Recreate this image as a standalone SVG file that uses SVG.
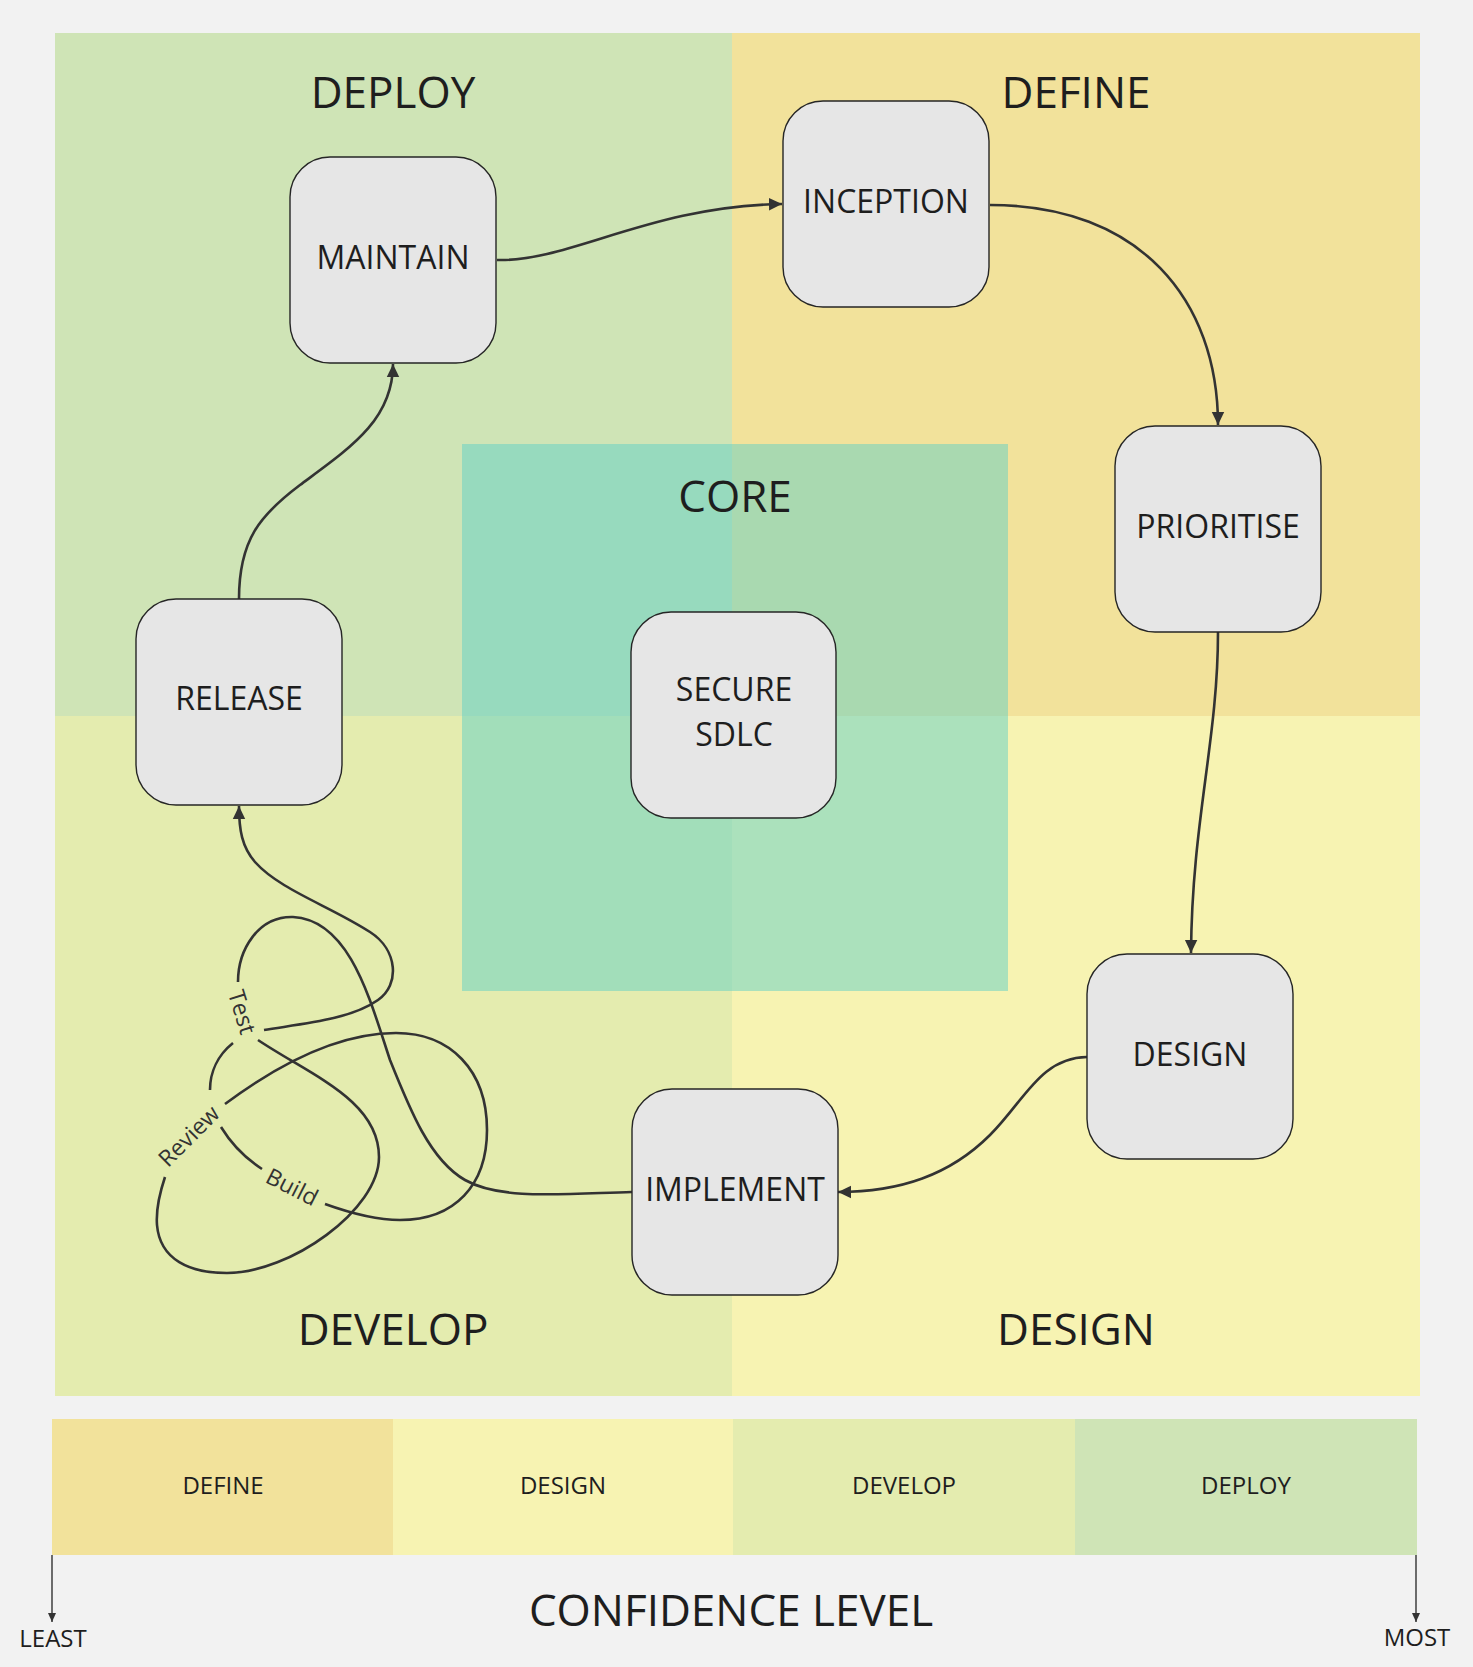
<svg xmlns="http://www.w3.org/2000/svg" width="1473" height="1667" viewBox="0 0 1473 1667">
<defs>
<style>
.node rect { fill:#e6e6e6; stroke:#262626; stroke-width:1.4; }
.node text, .t { font-family:"Open Sans","Noto Sans","Liberation Sans",sans-serif; fill:#1e1e1e; text-anchor:middle; }
.node text { font-size:32px; }
.title { font-size:44px; }
.bar { font-size:24px; }
.conn path { fill:none; stroke:#333; stroke-width:2.6; stroke-linecap:butt; }
.lbl { font-family:"Open Sans","Noto Sans","Liberation Sans",sans-serif; font-size:23px; fill:#333; text-anchor:middle; }
.axis { fill:none; stroke:#333; stroke-width:1.4; }
</style>
<marker id="arr" markerUnits="userSpaceOnUse" markerWidth="14" markerHeight="14" viewBox="0 0 14 14" refX="13" refY="7" orient="auto"><path d="M0,0.8 L13,7 L0,13.2 z" fill="#333"/></marker>
<marker id="arrS" markerUnits="userSpaceOnUse" markerWidth="10" markerHeight="10" viewBox="0 0 10 10" refX="9" refY="5" orient="auto"><path d="M0,1 L9,5 L0,9 z" fill="#333"/></marker>
</defs>

<rect x="0" y="0" width="1473" height="1667" fill="#f2f2f2"/>

<g id="quadrants">
<rect x="55" y="33" width="677" height="683" fill="#cfe4b6"/>
<rect x="732" y="33" width="688" height="683" fill="#f2e29b"/>
<rect x="55" y="716" width="677" height="680" fill="#e4ecaf"/>
<rect x="732" y="716" width="688" height="680" fill="#f7f3b2"/>
<rect x="462" y="444" width="546" height="547" fill="#5fcfc6" fill-opacity="0.5"/>
</g>

<g id="titles">
<text class="t title" x="393" y="108">DEPLOY</text>
<text class="t title" x="1076" y="108">DEFINE</text>
<text class="t title" x="393" y="1345">DEVELOP</text>
<text class="t title" x="1076" y="1345">DESIGN</text>
<text class="t title" x="735" y="512">CORE</text>
</g>

<g id="connectors" class="conn">
<path d="M497 260 C570 262, 650 206, 782 204" marker-end="url(#arr)"/>
<path d="M990 205 C1140 205, 1218 300, 1218 425" marker-end="url(#arr)"/>
<path d="M1218 632 C1218 740, 1192 820, 1191 953" marker-end="url(#arr)"/>
<path d="M1087 1057 C1040 1058, 1025 1100, 990 1135 C950 1175, 900 1192, 838 1192" marker-end="url(#arr)"/>
<path d="M239 599 C239 540, 260 515, 300 485 C350 448, 393 420, 393 364" marker-end="url(#arr)"/>
<!-- develop knot -->
<path d="M632 1192 C560 1194, 500 1200, 465 1180 C430 1160, 410 1110, 390 1060 C370 1000, 350 920, 293 917 C258 916, 238 950, 238 982"/>
<path d="M233 1043 C218 1055, 210 1072, 210 1090"/>
<path d="M221 1127 C232 1145, 245 1158, 262 1169"/>
<path d="M325 1204 C350 1213, 375 1220, 400 1220 C455 1220, 487 1185, 487 1130 C487 1070, 450 1033, 396 1033 C340 1033, 280 1063, 225 1104"/>
<path d="M165 1177 C159 1195, 156 1212, 157 1225 C160 1260, 190 1273, 227 1273 C290 1273, 379 1210, 379 1157 C379 1100, 310 1075, 258 1040"/>
<path d="M264 1030 C300 1024, 350 1020, 378 1000 C400 985, 398 950, 370 932 C330 906, 280 890, 255 862 C242 847, 239 830, 239 806" marker-end="url(#arr)"/>
</g>

<g id="knot-labels">
<text class="lbl" transform="translate(242 1012) rotate(73)" y="8">Test</text>
<text class="lbl" transform="translate(189 1136) rotate(-45)" y="8">Review</text>
<text class="lbl" transform="translate(292 1187) rotate(27)" y="8">Build</text>
</g>

<g id="node-maintain" class="node"><rect x="290" y="157" width="206" height="206" rx="40"/><text x="393" y="269">MAINTAIN</text></g>
<g id="node-inception" class="node"><rect x="783" y="101" width="206" height="206" rx="40"/><text x="886" y="213">INCEPTION</text></g>
<g id="node-prioritise" class="node"><rect x="1115" y="426" width="206" height="206" rx="40"/><text x="1218" y="538">PRIORITISE</text></g>
<g id="node-design" class="node"><rect x="1087" y="954" width="206" height="205" rx="40"/><text x="1190" y="1066">DESIGN</text></g>
<g id="node-implement" class="node"><rect x="632" y="1089" width="206" height="206" rx="40"/><text x="735" y="1201">IMPLEMENT</text></g>
<g id="node-release" class="node"><rect x="136" y="599" width="206" height="206" rx="40"/><text x="239" y="710">RELEASE</text></g>
<g id="node-secure" class="node"><rect x="631" y="612" width="205" height="206" rx="40"/><text x="734" y="701">SECURE</text><text x="734" y="746">SDLC</text></g>

<g id="confidence-bar">
<rect x="52" y="1419" width="341.5" height="136" fill="#f2e29b"/>
<rect x="393" y="1419" width="340" height="136" fill="#f7f3b2"/>
<rect x="733" y="1419" width="342" height="136" fill="#e4ecaf"/>
<rect x="1075" y="1419" width="342" height="136" fill="#cfe4b6"/>
<text class="t bar" x="223" y="1494">DEFINE</text>
<text class="t bar" x="563" y="1494">DESIGN</text>
<text class="t bar" x="904" y="1494">DEVELOP</text>
<text class="t bar" x="1246" y="1494">DEPLOY</text>
</g>

<g id="axis">
<path class="axis" d="M52 1555 L52 1622" marker-end="url(#arrS)"/>
<path class="axis" d="M1416 1555 L1416 1622" marker-end="url(#arrS)"/>
<text class="t bar" x="53" y="1647">LEAST</text>
<text class="t bar" x="1417" y="1646">MOST</text>
<text class="t title" x="731" y="1626">CONFIDENCE LEVEL</text>
</g>
</svg>
